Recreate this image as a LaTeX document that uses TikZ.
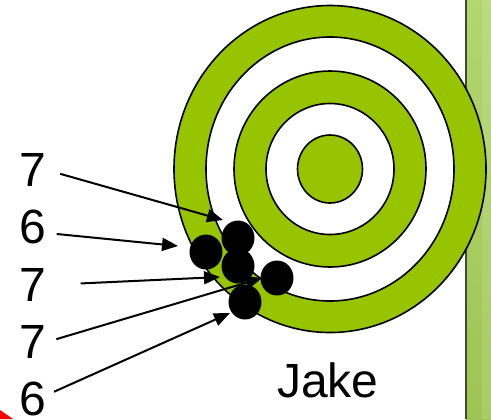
\documentclass[tikz,border=0pt]{standalone}
\usepackage{fontspec}
\setmainfont{Liberation Sans}
\usetikzlibrary{shapes.geometric,arrows.meta,positioning}
\usepackage{xcolor}
\definecolor{targetgreen}{RGB}{150,197,0}
\definecolor{bartop}{RGB}{178,214,112}
\definecolor{barbottom}{RGB}{158,196,84}
\definecolor{barline}{RGB}{62,74,50}

\begin{document}
\begin{tikzpicture}[
    x=0.5pt, y=-0.5pt,
    every node/.style={font=\fontsize{24}{28}\selectfont},
    ring/.style={draw=black, line width=0.8pt},
    hit/.style={ellipse, fill=black, draw=none, minimum width=16.5pt, minimum height=17.5pt, inner sep=0pt},
    score/.style={inner sep=0pt},
    arrow/.style={-{Triangle[length=8pt,width=6.5pt]}, line width=1pt}
]
\useasboundingbox (0,0) rectangle (491,419);

% Side bar of the slide
\shade[top color=bartop, bottom color=barbottom] (466,0) rectangle (491,419);
\fill[white, opacity=0.12] (482,0) rectangle (491,419);
\draw[barline, line width=0.8pt] (466,0) -- (466,419);

% Red corner
\fill[red] (0,410) -- (13,419) -- (0,419) -- cycle;

% Target
\draw[ring, fill=targetgreen] (330,169) ellipse [x radius=156, y radius=163.5];
\draw[ring, fill=white] (330,169) ellipse [x radius=124, y radius=132];
\draw[ring, fill=targetgreen] (330,169) ellipse [x radius=96, y radius=98];
\draw[ring, fill=white] (330,169) ellipse [x radius=64, y radius=65.5];
\draw[ring, fill=targetgreen] (330,169) ellipse [x radius=32.5, y radius=34];

% Scores
\node[score] (s1) at (33,170) {7};
\node[score] (s2) at (33,227) {6};
\node[score] (s3) at (33,285) {7};
\node[score] (s4) at (33,342) {7};
\node[score] (s5) at (33,399) {6};
\node[score] (name) at (328,380) {Jake};

% Arrow tips
\coordinate (t1) at (223,220);
\coordinate (t2) at (178,246);
\coordinate (t3) at (220,277);
\coordinate (t4) at (262,278);
\coordinate (t5) at (230,313);

% Arrows
\draw[arrow, shorten <=7pt] (s1.east) -- (t1);
\draw[arrow, shorten <=5pt] ([yshift=-3pt]s2.east) -- (t2);
\draw[arrow, shorten <=17pt] (s3.east) -- (t3);
\draw[arrow, shorten <=5pt] (s4.east) -- (t4);
\draw[arrow, shorten <=4pt] ([yshift=2pt]s5.east) -- (t5);

% Hits
\node[hit] (h2) at (206,252) {};
\node[hit] (h1) at (238,238) {};
\node[hit] (h3) at (238,266) {};
\node[hit] (h4) at (277,278) {};
\node[hit] (h5) at (245,302) {};

\end{tikzpicture}
\end{document}
